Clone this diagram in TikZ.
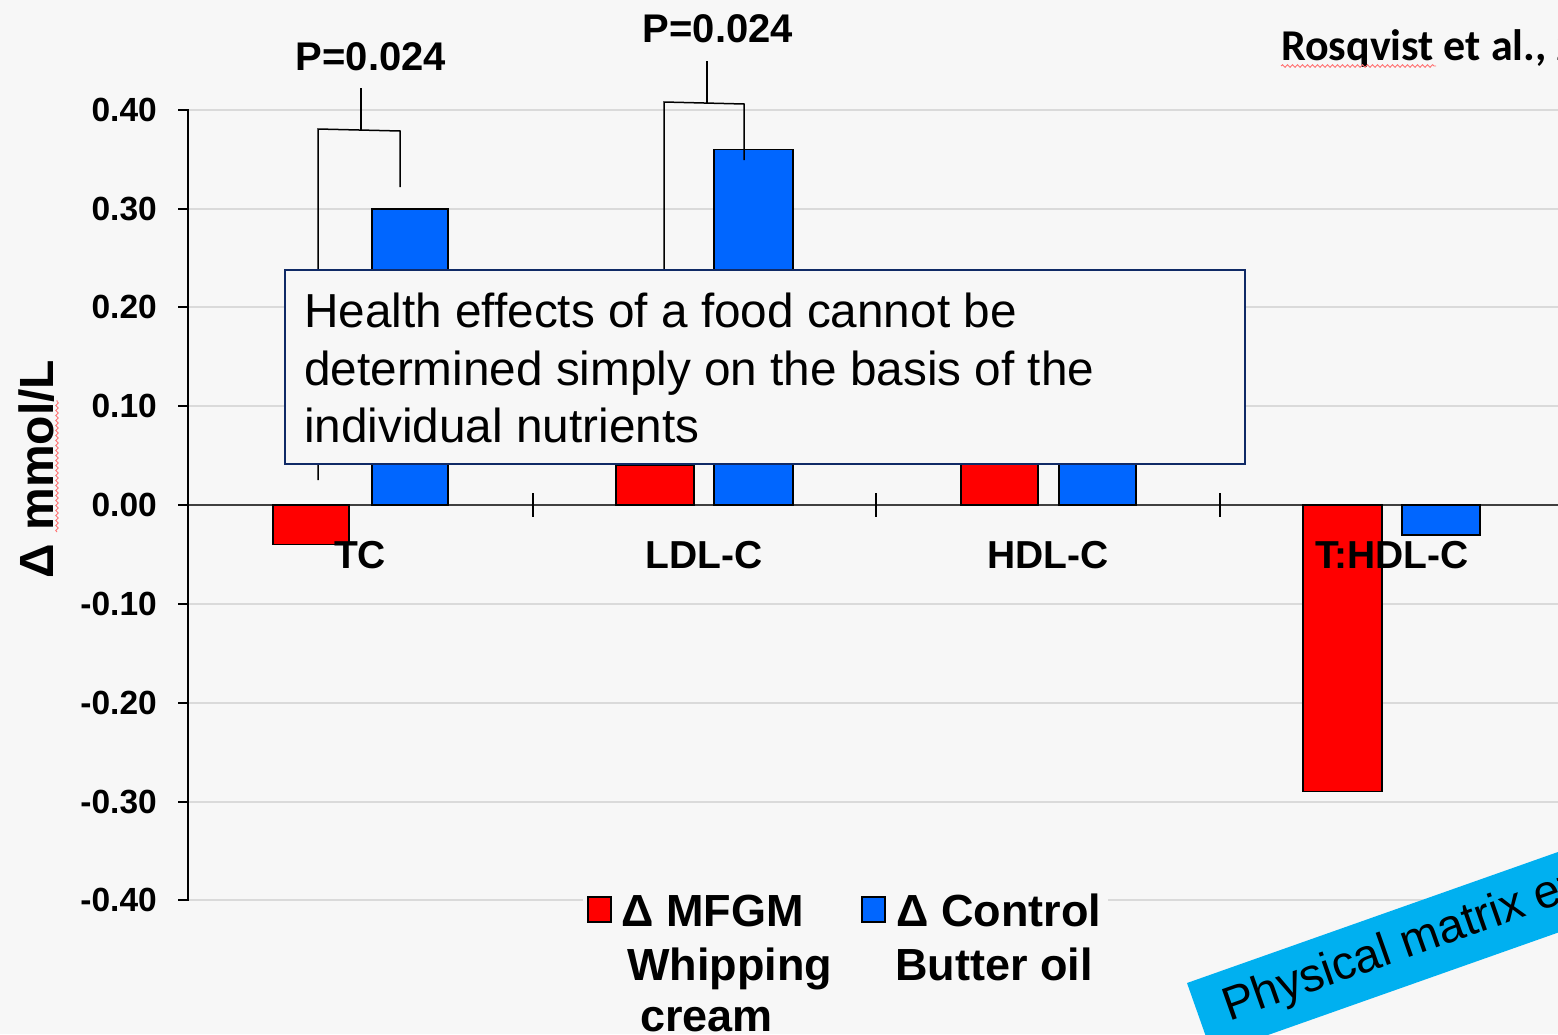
\documentclass[tikz,border=0pt]{standalone}
\usepackage{fontspec}
\setmainfont{Liberation Sans}
\newfontfamily\calibrifont{Carlito}
\usetikzlibrary{decorations.pathmorphing}
\definecolor{bg}{HTML}{F7F7F7}
\definecolor{gridc}{HTML}{DADADA}
\definecolor{barred}{HTML}{FF0000}
\definecolor{barblue}{HTML}{0066FF}
\definecolor{navy}{HTML}{102A66}
\definecolor{cyanb}{HTML}{00B0F0}
\definecolor{zerol}{HTML}{404040}
\newcommand\fsz[2]{\fontsize{#1}{#2}\selectfont}
\begin{document}
\begin{tikzpicture}[x=1pt,y=-1pt,
  redbar/.style={fill=barred,draw=black,line width=1.2pt},
  bluebar/.style={fill=barblue,draw=black,line width=1.2pt},
  gridline/.style={draw=gridc,line width=1.6pt},
  ticklbl/.style={anchor=east,inner sep=0pt,font=\bfseries\fsz{33.5}{40}},
  catlbl/.style={anchor=base,inner sep=0pt,font=\bfseries\fsz{39}{47}},
  plbl/.style={anchor=base,inner sep=0pt,font=\bfseries\fsz{40}{48}},
  bodytxt/.style={anchor=base west,inner sep=0pt,font=\fsz{47.7}{57}},
  legtxt/.style={anchor=base west,inner sep=0pt,font=\bfseries\fsz{45}{54}},
  bracket/.style={draw=black,line width=1.5pt},
  spell/.style={draw=red!55,line width=0.9pt,decorate,decoration={snake,amplitude=1.3pt,segment length=5pt}}
]
\useasboundingbox (0,0) rectangle (1558,1034);
\fill[bg] (0,0) rectangle (1558,1034);
\clip (0,0) rectangle (1558,1034);

% gridlines
\foreach \yy in {110,209,307,406,604,703,802,900}
  \draw[gridline] (188,\yy) -- (1558,\yy);

% zero line
\draw[draw=zerol,line width=2pt] (188,505) -- (1558,505);
\foreach \xx in {533,876,1220}
  \draw[black,line width=1.5pt] (\xx,493) -- (\xx,517);

% bars
\draw[redbar]  (273,505) rectangle (349,544.5);
\draw[bluebar] (372,505) rectangle (448,209);
\draw[redbar]  (616,505) rectangle (694,465.5);
\draw[bluebar] (714,505) rectangle (793,149.5);
\draw[redbar]  (961,505) rectangle (1038,430);
\draw[bluebar] (1059,505) rectangle (1136,430);
\draw[redbar]  (1303,505) rectangle (1382,791.5);
\draw[bluebar] (1402,505) rectangle (1480,535);

% significance brackets
\draw[bracket] (318,480) -- (318,129) -- (400,131) -- (400,187);
\draw[bracket] (361,88) -- (361,130);
\draw[bracket] (664,445) -- (664,102) -- (744,104) -- (744,160);
\draw[bracket] (707,61) -- (707,103);
\node[plbl] (p1) at (371,70) {P=0.024};
\node[plbl] (p2) at (718,42) {P=0.024};

% y axis
\draw[black,line width=2pt] (188,109) -- (188,901);
\foreach \yy/\lab in {110/0.40,209/0.30,307/0.20,406/0.10,505/0.00,604/-0.10,703/-0.20,802/-0.30,900/-0.40}{
  \draw[black,line width=1.5pt] (178,\yy) -- (188,\yy);
  \node[ticklbl] at (157,\yy) {\lab};
}
\node[anchor=base,inner sep=0pt,rotate=90,font=\bfseries\fsz{48}{56}] (ylbl) at (53,469) {Δ mmol/L};
\draw[spell] (57,532) -- (57,400);

% message box
\node[draw=navy,line width=2pt,fill=bg,minimum width=960pt,minimum height=194pt,anchor=north west,inner sep=0pt] (msg) at (284,269) {};
\node[bodytxt] (t1) at (304,327) {Health effects of a food cannot be};
\node[bodytxt] (t2) at (304,385) {determined simply on the basis of the};
\node[bodytxt] (t3) at (304,442) {individual nutrients};

% category labels
\node[catlbl] (c1) at (360,568) {TC};
\node[catlbl] (c2) at (704,568) {LDL-C};
\node[catlbl] (c3) at (1048,568) {HDL-C};
\node[catlbl] (c4) at (1392,568) {T:HDL-C};

% citation
\node[anchor=base west,inner sep=0pt,font=\calibrifont\bfseries\fsz{44}{53}] (cite) at (1281,60) {Rosqvist et al., 2015};
\draw[spell] (1281,66) -- (1436,66);

% legend
\fill[bg] (583,880) rectangle (1108,1034);
\draw[fill=barred,draw=black,line width=1.2pt] (588,897) rectangle (611,922);
\draw[fill=barblue,draw=black,line width=1.2pt] (862,897) rectangle (885,922);
\node[legtxt] (l1) at (621,926) {Δ MFGM};
\node[legtxt] (l2) at (627,980) {Whipping};
\node[legtxt] (l3) at (640,1031) {cream};
\node[legtxt] (l4) at (896,926) {Δ Control};
\node[legtxt] (l5) at (895,980) {Butter oil};

% banner
\begin{scope}[shift={(1187,983)},rotate=19.45,transform shape]
  \fill[cyanb] (0,0) rectangle (600,76);
  \node[anchor=base west,inner sep=0pt,font=\fsz{47}{56}] (ban) at (27,50) {Physical matrix effect};
\end{scope}
\end{tikzpicture}
\end{document}
